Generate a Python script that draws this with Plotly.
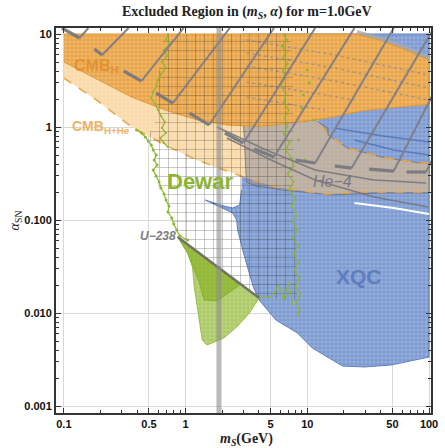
import numpy as np
import plotly.graph_objects as go

# ---------------- data: m_S (GeV) and alpha_SN ----------------
# XQC excluded region
xqc_m = [2.88, 100, 100, 48.5, 29.4, 19.5, 11.0, 8.3, 5.52, 4.02, 3.60, 2.99, 2.68, 2.63, 2.44, 1.99, 1.45, 1.99, 2.44, 2.78, 2.88]
xqc_a = [10, 10, 0.00336, 0.00276, 0.00263, 0.00269, 0.0042, 0.00609, 0.00841, 0.0138, 0.019, 0.0442, 0.0781, 0.100, 0.119, 0.136, 0.164, 0.143, 0.1346, 0.145, 0.21]

# CMB (hydrogen) region: upper edge and lower edge
cmbh_top_m = [0.1, 25.3, 38.8, 61.7, 100]
cmbh_top_a = [10, 10, 8.62, 6.90, 5.25]
cmbh_low_m = [0.1, 0.195, 0.36, 0.68, 1.25, 2.2, 3.8, 5.5, 9.6, 14.8, 28, 51, 100]
cmbh_low_a = [5.0, 3.2, 2.1, 1.52, 1.19, 1.05, 1.02, 1.05, 1.16, 1.25, 1.49, 1.62, 1.75]

# CMB (H+He) region: lower edge and the notch on the right
cmbhhe_low_m = [0.1, 0.195, 0.36, 0.68, 1.25, 1.8, 3.0, 5.5, 14, 29, 100]
cmbhhe_low_a = [3.36, 1.86, 1.0, 0.64, 0.44, 0.37, 0.29, 0.226, 0.19, 0.20, 0.20]
notch_m = [100, 84.6, 40.3, 21.4, 14.8, 11.6]
notch_a = [0.41, 0.41, 0.476, 0.594, 0.82, 1.3]

# He-4 region
he4_m = [2.99, 4.59, 8.0, 11.6, 14.8, 14.8, 21.4, 40.3, 84.6, 100, 100, 40.3, 15.9, 6.29, 3.81, 3.16, 3.10, 2.99]
he4_a = [1.13, 1.08, 1.13, 1.19, 0.975, 0.82, 0.594, 0.476, 0.41, 0.41, 0.195, 0.195, 0.186, 0.21, 0.232, 0.256, 0.442, 1.13]
he4_curve1_m = [1.81, 4.59, 11.6, 35.3, 94.6]
he4_curve1_a = [1.0, 0.566, 0.345, 0.269, 0.25]
he4_curve2_m = [2.18, 5.03, 11.6, 35.3, 98.2]
he4_curve2_a = [0.762, 0.442, 0.269, 0.177, 0.138]

# meshed (Dewar) region
mesh_m = [0.652, 0.629, 0.573, 0.594, 0.494, 0.542, 0.573, 0.542, 0.617, 0.690, 0.743, 0.831, 0.895, 4.02, 8.30, 7.71, 7.71, 7.29]
mesh_a = [10, 5.25, 2.50, 1.28, 0.820, 0.566, 0.442, 0.305, 0.210, 0.164, 0.113, 0.082, 0.0657, 0.0145, 0.0138, 0.164, 1.95, 10]

# U-238 region (outer, inner)
u238_m = [0.862, 4.02, 3.34, 2.63, 2.06, 1.50, 1.37, 1.30, 1.18, 1.14, 1.04, 0.862]
u238_a = [0.0657, 0.0145, 0.0100, 0.00707, 0.00539, 0.00453, 0.00513, 0.00841, 0.0190, 0.0312, 0.0442, 0.0657]
u238_in_m = [0.862, 2.78, 2.31, 1.81, 1.42, 1.30, 1.14, 1.04, 0.862]
u238_in_a = [0.0657, 0.0200, 0.0168, 0.0135, 0.0138, 0.0210, 0.0328, 0.0442, 0.0657]
u238_edge_m = [0.862, 4.02]
u238_edge_a = [0.0657, 0.0145]

# Dewar data curves
dew_lu_m = [0.716, 0.690, 0.743, 0.6645, 0.703, 0.640, 0.690, 0.6285, 0.5946, 0.573, 0.5418, 0.522, 0.5623, 0.5946, 0.6285, 0.677, 0.640, 0.690, 0.617, 0.6645, 0.716]
dew_lu_a = [10, 8.62, 7.81, 6.73, 5.80, 5.00, 4.31, 3.71, 3.20, 2.76, 2.38, 2.05, 1.77, 1.52, 1.31, 1.13, 0.975, 0.862, 0.762, 0.673, 0.610]
dew_ll_m = [0.395, 0.4336, 0.467, 0.4937, 0.522, 0.5418, 0.573, 0.552, 0.5837, 0.5418, 0.573, 0.6057, 0.6285, 0.6645, 0.690, 0.7295, 0.716, 0.771, 0.800, 0.846, 0.895, 1.04]
dew_ll_a = [0.928, 0.862, 0.781, 0.707, 0.640, 0.566, 0.500, 0.442, 0.390, 0.345, 0.297, 0.256, 0.221, 0.190, 0.164, 0.1415, 0.122, 0.105, 0.0906, 0.0781, 0.0673, 0.061]
dew_r_m = [6.40, 6.77, 6.17, 6.65, 6.29, 6.90, 6.29, 6.52, 6.06, 6.65, 6.40, 7.03, 6.52, 6.90, 6.40, 7.16, 6.65, 7.43, 7.71, 6.90, 7.71, 7.03, 8.00, 7.43, 8.15, 7.57, 8.30, 7.57, 8.46, 7.71, 8.46, 7.85, 8.62, 8.00, 8.78, 8.15, 8.62, 8.30]
dew_r_a = [10, 8.62, 7.43, 6.40, 5.52, 4.76, 4.10, 3.36, 2.76, 2.26, 1.86, 1.52, 1.25, 1.025, 0.841, 0.690, 0.566, 0.464, 0.381, 0.312, 0.256, 0.210, 0.1725, 0.1415, 0.116, 0.0952, 0.0781, 0.064, 0.0525, 0.0431, 0.0353, 0.0290, 0.0238, 0.0195, 0.0160, 0.0131, 0.01076, 0.00929]
dew_link_m = [4.02, 5.03, 5.84, 6.40, 7.03, 7.57]
dew_link_a = [0.0145, 0.0149, 0.020, 0.0138, 0.0216, 0.0122]
dew_dots_m = [8.78, 10.0, 9.28, 11.2, 8.46, 9.63, 10.4, 9.0]
dew_dots_a = [6.73, 4.10, 2.21, 1.19, 0.725, 0.442, 3.0, 1.6]

# hatched constraint: dashes and rising strokes
hatch_d0_m = [0.0964, 0.178, 0.310, 0.573, 1.077, 2.101, 3.67, 8.0, 16.8, 32.2, 65.3]
hatch_d0_a = [11.6, 6.90, 4.00, 2.32, 1.414, 0.862, 0.580, 0.442, 0.381, 0.353, 0.328]
hatch_d1_m = [0.1346, 0.2063, 0.4335, 0.786, 1.561, 2.99, 5.32, 11.6, 23.1, 51.3, 94.6]
hatch_d1_a = [9.06, 5.94, 3.12, 1.81, 1.051, 0.673, 0.476, 0.410, 0.362, 0.336, 0.328]
hatch_top_m = [0.159, 0.340, 0.964, 2.306, 5.32, 11.6, 24.4, 51.3, 109.7, 118.2, 118.2]
hatch_top_a = [11.6, 11.6, 11.6, 11.6, 11.6, 11.6, 11.6, 11.6, 11.6, 2.86, 0.594]

# XQC inner contours
xqc_dot_rows = [([3.16, 16.8, 100], [8.62, 5.95, 3.62]),
                ([3.16, 16.8, 100], [6.25, 4.31, 2.63]),
                ([3.16, 16.8, 100], [4.53, 3.12, 1.95]),
                ([3.16, 24.4], [3.05, 1.95]),
                ([3.16, 14.0], [2.10, 1.52])]
xqc_line_rows = [([17, 42, 100], [0.97, 0.80, 0.69]),
                 ([24.4, 51.3, 100], [0.725, 0.566, 0.50])]
xqc_gap_m = [24.4, 51.3, 100]
xqc_gap_a = [0.152, 0.1346, 0.116]

bar_m = 1.88

x_tickvals = [0.1, 0.5, 1, 5, 10, 50, 100]
x_ticktext = ["0.1", "0.5", "1", "5", "10", "50", "100"]
y_tickvals = [0.001, 0.01, 0.1, 1, 10]
y_ticktext = ["0.001", "0.010", "0.100", "1", "10"]

# ---------------- figure ----------------
fig = go.Figure()


def region(xs, ys, color, edge, edge_w=1, fg="rgba(255,255,255,1)", fgop=0.4, size=4, sol=0.25):
    fig.add_trace(go.Scatter(
        x=xs, y=ys, mode="lines", fill="toself", fillcolor=color,
        line=dict(color=edge, width=edge_w), hoverinfo="skip",
        fillpattern=dict(shape="+", size=size, solidity=sol, fgcolor=fg, fgopacity=fgop, bgcolor=color)))


def line(xs, ys, color, width, dash="solid", mode="lines", msize=2):
    fig.add_trace(go.Scatter(x=xs, y=ys, mode=mode, line=dict(color=color, width=width, dash=dash),
                             marker=dict(color=color, size=msize), hoverinfo="skip"))


def join(rows):
    xs, ys = [], []
    for rx, ry in rows:
        xs += list(rx) + [None]
        ys += list(ry) + [None]
    return xs, ys


# XQC
region(xqc_m, xqc_a, "rgb(122,153,208)", "rgb(95,128,195)")
lx, ly = join(xqc_line_rows)
line(lx, ly, "rgba(70,105,180,0.7)", 1.5)
line(xqc_gap_m, xqc_gap_a, "white", 2)

# CMB H+He
peach_m = cmbhhe_low_m + notch_m + [m for m in cmbh_low_m[::-1] if m < 11.6]
peach_a = cmbhhe_low_a + notch_a + [a for m, a in zip(cmbh_low_m[::-1], cmbh_low_a[::-1]) if m < 11.6]
region(peach_m, peach_a, "rgb(250,217,168)", "rgba(0,0,0,0)", edge_w=0)

# grey band at top right
line(cmbh_top_m[1:], cmbh_top_a[1:], "rgba(170,170,170,0.8)", 8)

# He-4
region(he4_m, he4_a, "rgba(135,135,145,0.55)", "rgba(110,110,110,0.8)", fg="rgba(255,255,255,1)", fgop=0.2)

# CMB H
region(cmbh_top_m + cmbh_low_m[::-1], cmbh_top_a + cmbh_low_a[::-1], "rgb(234,163,66)", "rgb(225,150,50)",
       fgop=0.45)
lx, ly = join(xqc_dot_rows)
line(lx, ly, "rgba(95,120,185,0.45)", 1.6, dash="dot")

# dashed edge of the H+He region
line(cmbhhe_low_m + [None] + notch_m, cmbhhe_low_a + [None] + notch_a, "rgb(238,165,70)", 1.5, dash="dash")

# mesh region
fig.add_trace(go.Scatter(
    x=mesh_m, y=mesh_a, mode="lines", fill="toself", fillcolor="rgba(0,0,0,0)",
    line=dict(width=0, color="rgba(0,0,0,0)"), hoverinfo="skip",
    fillpattern=dict(shape="+", size=9, solidity=0.11, fgcolor="rgb(40,40,40)", fgopacity=0.5,
                     bgcolor="rgba(0,0,0,0)")))

# U-238
region(u238_m, u238_a, "rgb(172,202,100)", "rgb(150,190,70)", fgop=0.35)
region(u238_in_m, u238_in_a, "rgb(145,183,52)", "rgb(135,175,45)", fgop=0.2)
line(u238_edge_m, u238_edge_a, "rgba(105,105,105,0.9)", 2.5)

# Dewar
green = "rgb(140,182,50)"
line(dew_lu_m, dew_lu_a, green, 1.2, mode="lines+markers", msize=2)
line(dew_ll_m, dew_ll_a, green, 1.2, mode="lines+markers", msize=3)
line(dew_r_m, dew_r_a, green, 1.2, mode="lines+markers", msize=2)
line(dew_link_m, dew_link_a, green, 1.2)
line(dew_dots_m, dew_dots_a, green, 1, mode="markers", msize=3)

# He-4 curves
line(he4_curve1_m, he4_curve1_a, "rgba(115,115,125,0.85)", 1.6)
line(he4_curve2_m, he4_curve2_a, "rgba(115,115,125,0.85)", 1.6)

# hatch marks
dx, dy, rx, ry = [], [], [], []
for i in range(len(hatch_d0_m)):
    dx += [hatch_d0_m[i], hatch_d1_m[i], None]
    dy += [hatch_d0_a[i], hatch_d1_a[i], None]
    rx += [hatch_d1_m[i], hatch_top_m[i], None]
    ry += [hatch_d1_a[i], hatch_top_a[i], None]
line(dx, dy, "rgba(120,120,130,0.95)", 3.2)
line(rx, ry, "rgba(125,125,135,0.95)", 2)

# vertical bar
line([bar_m, bar_m], [0.0005, 20], "rgba(140,140,140,0.6)", 5)

# ---------------- labels ----------------
L = np.log10
labels = [
    ("<b>CMB<sub>H</sub></b>", 0.1845, 4.42, 16, "rgb(226,146,48)", "Liberation Sans"),
    ("<b>CMB<sub>H+He</sub></b>", 0.2025, 1.0, 14, "rgb(238,178,98)", "Liberation Sans"),
    ("<b>Dewar</b>", 1.32, 0.262, 22, "rgb(140,182,50)", "Liberation Sans"),
    ("<i>He−4</i>", 16.2, 0.262, 16, "rgb(120,120,130)", "Liberation Sans"),
    ("<b><i>U−238</i></b>", 0.594, 0.0673, 12, "rgb(125,125,130)", "Liberation Sans"),
    ("<b>XQC</b>", 26.7, 0.0244, 21, "rgb(95,125,190)", "Liberation Sans"),
]
ann = []
for t, xm, ya, s, c, f in labels:
    ann.append(dict(text=t, x=L(xm), y=L(ya), xref="x", yref="y", showarrow=False,
                    font=dict(size=s, color=c, family=f), xanchor="center", yanchor="middle"))

ann.append(dict(text="<b>Excluded Region in (<i>m<sub>S</sub></i>, <i>α</i>) for m=1.0GeV</b>",
                xref="paper", yref="paper", x=0.508, y=1.039, showarrow=False,
                font=dict(size=14, color="#222", family="Liberation Serif"),
                xanchor="center", yanchor="middle"))
ann.append(dict(text="<b><i>m</i><sub><i>S</i></sub>(GeV)</b>", xref="paper", yref="paper",
                x=0.508, y=-0.07, showarrow=False,
                font=dict(size=14, color="#222", family="Liberation Serif"),
                xanchor="center", yanchor="middle"))
ann.append(dict(text="<i>α</i><sub>SN</sub>", xref="paper", yref="paper",
                x=-0.107, y=0.50, showarrow=False, textangle=-90,
                font=dict(size=14, color="#222", family="Liberation Serif"),
                xanchor="center", yanchor="middle"))

minor_x = [v * d for d in (0.1, 1, 10) for v in (2, 3, 4, 6, 7, 8, 9)]
minor_y = [v * d for d in (0.001, 0.01, 0.1, 1) for v in (2, 3, 4, 5, 6, 7, 8, 9)]

axis_common = dict(type="log", showgrid=True, gridcolor="#d8d8d8", gridwidth=1,
                   showline=True, linecolor="#333", linewidth=2, mirror="allticks",
                   ticks="inside", ticklen=5, tickwidth=1, tickcolor="#333",
                   tickfont=dict(family="Liberation Sans", size=11, color="#111"),
                   zeroline=False)

fig.update_layout(
    width=445, height=448,
    margin=dict(l=56, r=7, t=28, b=35),
    plot_bgcolor="white", paper_bgcolor="white",
    showlegend=False,
    annotations=ann,
    xaxis=dict(range=[-1.0645, 2.016], tickvals=x_tickvals, ticktext=["<b>%s</b>" % t for t in x_ticktext],
               minor=dict(ticks="inside", ticklen=3, tickvals=minor_x, tickcolor="#333", showgrid=False),
               **axis_common),
    yaxis=dict(range=[-3.075, 1.0645], tickvals=y_tickvals, ticktext=["<b>%s</b>" % t for t in y_ticktext],
               minor=dict(ticks="inside", ticklen=3, tickvals=minor_y, tickcolor="#333", showgrid=False),
               **axis_common),
)

fig.write_html("out.html")
